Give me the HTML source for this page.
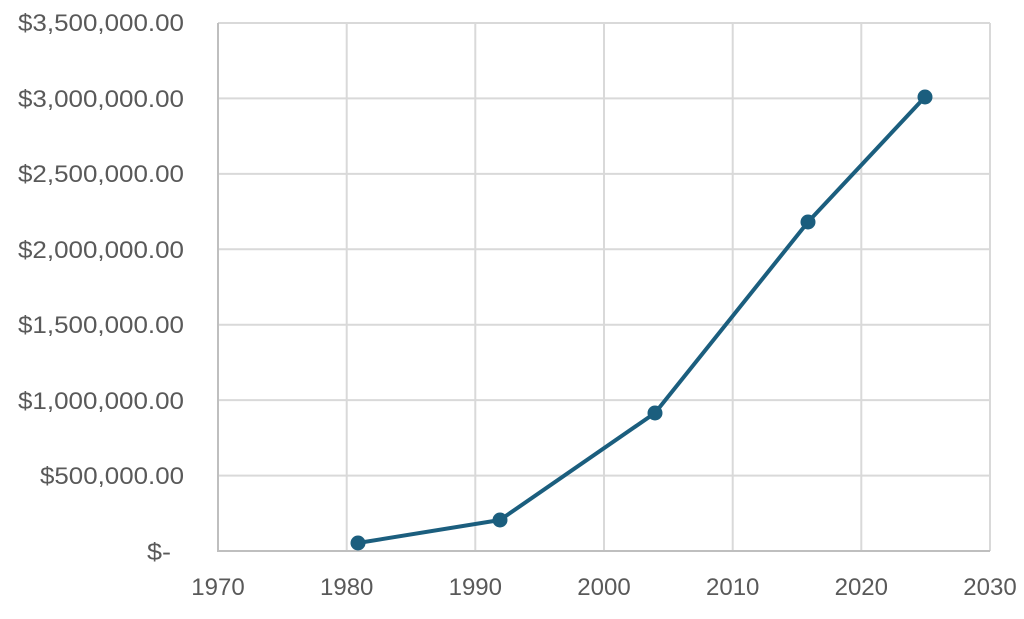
<!DOCTYPE html>
<html><head><style>
html,body{margin:0;padding:0;background:#fff;}
svg text{font-family:"Liberation Sans",sans-serif;fill:#595959;font-size:24px;}
</style></head><body>
<svg width="1024" height="614" xmlns="http://www.w3.org/2000/svg">
<g stroke="#d9d9d9" stroke-width="2">
<line x1="218" y1="23" x2="990" y2="23"/>
<line x1="218" y1="98.4" x2="990" y2="98.4"/>
<line x1="218" y1="173.9" x2="990" y2="173.9"/>
<line x1="218" y1="249.3" x2="990" y2="249.3"/>
<line x1="218" y1="324.7" x2="990" y2="324.7"/>
<line x1="218" y1="400.1" x2="990" y2="400.1"/>
<line x1="218" y1="475.6" x2="990" y2="475.6"/>
<line x1="346.7" y1="23" x2="346.7" y2="551"/>
<line x1="475.3" y1="23" x2="475.3" y2="551"/>
<line x1="604" y1="23" x2="604" y2="551"/>
<line x1="732.7" y1="23" x2="732.7" y2="551"/>
<line x1="861.3" y1="23" x2="861.3" y2="551"/>
<line x1="990" y1="23" x2="990" y2="551"/>
</g>
<g stroke="#bfbfbf" stroke-width="2">
<line x1="218" y1="23" x2="218" y2="551"/>
<line x1="217" y1="551" x2="990" y2="551"/>
</g>
<g text-anchor="end">
<text x="184" y="31" textLength="166" lengthAdjust="spacingAndGlyphs">$3,500,000.00</text>
<text x="184" y="107" textLength="166" lengthAdjust="spacingAndGlyphs">$3,000,000.00</text>
<text x="184" y="182" textLength="166" lengthAdjust="spacingAndGlyphs">$2,500,000.00</text>
<text x="184" y="258" textLength="166" lengthAdjust="spacingAndGlyphs">$2,000,000.00</text>
<text x="184" y="333" textLength="166" lengthAdjust="spacingAndGlyphs">$1,500,000.00</text>
<text x="184" y="409" textLength="166" lengthAdjust="spacingAndGlyphs">$1,000,000.00</text>
<text x="184" y="484" textLength="144" lengthAdjust="spacingAndGlyphs">$500,000.00</text>
<text x="171" y="560" textLength="24" lengthAdjust="spacingAndGlyphs">$-</text>
</g>
<g text-anchor="middle">
<text x="218" y="595">1970</text>
<text x="346.7" y="595">1980</text>
<text x="475.3" y="595">1990</text>
<text x="604" y="595">2000</text>
<text x="732.7" y="595">2010</text>
<text x="861.3" y="595">2020</text>
<text x="990" y="595">2030</text>
</g>
<polyline points="358,543 500,520 655,413 808,222 925,97" fill="none" stroke="#1b5e7e" stroke-width="4" stroke-linejoin="round"/>
<g fill="#1b5e7e">
<circle cx="358" cy="543" r="7.5"/>
<circle cx="500" cy="520" r="7.5"/>
<circle cx="655" cy="413" r="7.5"/>
<circle cx="808" cy="222" r="7.5"/>
<circle cx="925" cy="97" r="7.5"/>
</g>
</svg>
</body></html>
